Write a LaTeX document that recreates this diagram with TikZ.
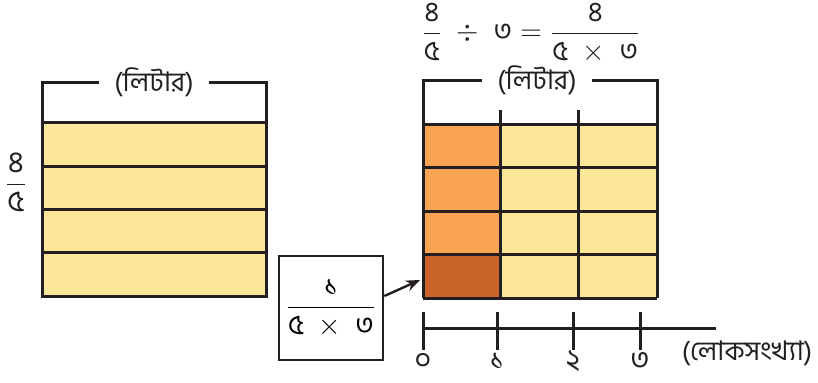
\documentclass[tikz,border=0pt]{standalone}
\usepackage{amsmath}
\usepackage{fontspec}
\setmainfont[Script=Bengali]{Hind Siliguri}
\usepackage{xcolor}
\definecolor{cellyel}{HTML}{FCE699}
\definecolor{cellorg}{HTML}{F9A455}
\definecolor{celldark}{HTML}{CB6428}
\definecolor{ink}{HTML}{231F20}
\newcommand{\bn}[1]{\text{#1}}
\usetikzlibrary{arrows.meta,positioning}

\begin{document}
\begin{tikzpicture}[
  x=0.5pt, y=-0.5pt,
  font=\fontsize{13.5}{15}\selectfont,
  grid/.style = {line width=1.5pt, ink},
  brk/.style  = {line width=1.5pt, ink},
  lbl/.style  = {inner sep=1pt, text=ink},
  frac/.style = {lbl, font=\fontsize{15}{17}\selectfont},
  unit/.style = {lbl, minimum width=55pt, minimum height=14pt},
  arr/.style  = {-{Stealth[length=7pt,width=5.5pt]}, line width=1.2pt, ink},
]
\useasboundingbox (0,0) rectangle (818,382);

% left: the whole 4/5 litre
\fill[cellyel] (42,122) rectangle (266,296);
\foreach \y in {122,166,209,252}
  \draw[grid] (42,\y) -- (266,\y);
\draw[grid] (42,122) -- (42,296) -- (266,296) -- (266,122);
\node[unit] (litL) at (154,82) {(লিটার)};
\draw[brk] (litL.west) -- (42,82) -- (42,122);
\draw[brk] (litL.east) -- (266,82) -- (266,122);
\node[frac] (fracL) at (16,182) {$\dfrac{\bn{৪}}{\bn{৫}}$};

% right: split among 3 people
\foreach \y/\c [count=\r] in {124/cellorg,167/cellorg,211/cellorg,254/celldark} {
  \fill[\c] (423,\y) rectangle (500,\y+44);
  \fill[cellyel] (500,\y) rectangle (657,\y+44);
}
\foreach \y in {124,167,211,254}
  \draw[grid] (423,\y) -- (657,\y);
\draw[grid] (423,298) -- (657,298);
\foreach \x in {500,578}
  \draw[grid] (\x,110) -- (\x,298);
\draw[grid] (423,124) -- (423,298);
\draw[grid] (657,124) -- (657,298);
\node[unit] (litR) at (537,80) {(লিটার)};
\draw[brk] (litR.west) -- (423,80) -- (423,124);
\draw[brk] (litR.east) -- (657,80) -- (657,124);
\coordinate (dk) at (420,280);

\node[frac, font=\fontsize{14}{16}\selectfont] (eqn) at (531,33)
  {$\dfrac{\bn{৪}}{\bn{৫}}\;\div\;\bn{৩} = \dfrac{\;\bn{৪}\;}{\bn{৫}\;\times\;\bn{৩}}$};

% one share
\node[draw=ink, line width=1.3pt, minimum width=52pt, minimum height=52pt,
      inner sep=0pt, font=\fontsize{14}{16}\selectfont] (bx) at (331,308)
  {$\dfrac{\bn{১}}{\bn{৫}\;\times\;\bn{৩}}$};
\draw[arr] ([yshift=6pt]bx.east) -- (dk);

% people axis
\coordinate (ax0) at (423,328);
\coordinate (ax1) at (716,328);
\draw[grid] (ax0) -- (ax1);
\foreach \x/\n [count=\i from 0] in {423/০,497/১,573/২,640/৩} {
  \draw[grid] (\x,312) -- (\x,350);
  \node[lbl, font=\fontsize{14.5}{16}\selectfont] (t\i) at (\x,361) {\n};
}
\node[lbl] (ppl) at (747,353) {(লোকসংখ্যা)};
\end{tikzpicture}
\end{document}
